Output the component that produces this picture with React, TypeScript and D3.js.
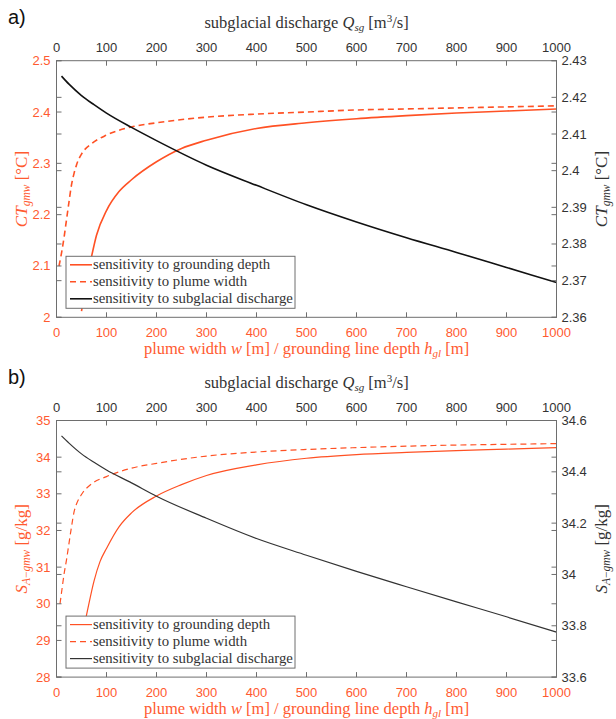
import React from 'react'
import * as d3 from 'd3'

// x ticks shared by top (discharge) and bottom (width / depth) axes
const xTicks = [0, 100, 200, 300, 400, 500, 600, 700, 800, 900, 1000]

// panel a) temperature
const ctLeftTicks = [2, 2.1, 2.2, 2.3, 2.4, 2.5]
const ctRightTicks = [2.36, 2.37, 2.38, 2.39, 2.4, 2.41, 2.42, 2.43]

const ctDepthX = [50, 60, 70, 80, 100, 125, 150, 200, 250, 300, 400, 500, 600, 700, 800, 900, 1000]
const ctDepthY = [2.012, 2.07, 2.118, 2.16, 2.208, 2.245, 2.268, 2.303, 2.329, 2.345, 2.368, 2.379, 2.387, 2.393, 2.398, 2.402, 2.406]

const ctWidthX = [5, 10, 15, 20, 25, 30, 35, 40, 50, 70, 100, 150, 200, 300, 400, 500, 600, 700, 800, 900, 1000]
const ctWidthY = [2.1, 2.125, 2.155, 2.19, 2.225, 2.258, 2.28, 2.297, 2.318, 2.338, 2.355, 2.371, 2.379, 2.39, 2.396, 2.4, 2.404, 2.406, 2.408, 2.41, 2.412]

const ctDischX = [10, 25, 50, 75, 100, 150, 200, 300, 400, 500, 600, 700, 800, 900, 1000]
const ctDischY = [2.4258, 2.4236, 2.4205, 2.418, 2.4157, 2.4118, 2.4082, 2.4015, 2.396, 2.3907, 2.386, 2.3817, 2.3777, 2.3736, 2.3695]

// panel b) salinity
const saLeftTicks = [28, 29, 30, 31, 32, 33, 34, 35]
const saRightTicks = [33.6, 33.8, 34, 34.2, 34.4, 34.6]

const saDepthX = [50, 60, 75, 87, 100, 125, 150, 200, 250, 300, 400, 500, 600, 700, 800, 900, 1000]
const saDepthY = [29.05, 29.69, 30.62, 31.15, 31.51, 32.1, 32.48, 32.94, 33.25, 33.5, 33.79, 33.97, 34.07, 34.13, 34.18, 34.22, 34.26]

const saWidthX = [7, 10, 15, 20, 25, 30, 35, 40, 50, 70, 100, 150, 200, 300, 400, 500, 600, 700, 800, 900, 1000]
const saWidthY = [30.0, 30.3, 30.8, 31.2, 31.65, 32.1, 32.5, 32.72, 32.98, 33.27, 33.47, 33.7, 33.83, 34.03, 34.14, 34.21, 34.26, 34.3, 34.33, 34.35, 34.37]

const saDischX = [10, 25, 50, 75, 100, 150, 200, 300, 400, 500, 600, 700, 800, 900, 1000]
const saDischY = [34.54, 34.512, 34.47, 34.437, 34.407, 34.357, 34.305, 34.219, 34.14, 34.075, 34.012, 33.952, 33.893, 33.835, 33.775]

const legendLabels = ['sensitivity to grounding depth', 'sensitivity to plume width', 'sensitivity to subglacial discharge']

const ORANGE = '#ff5124'
const ORANGE_TXT = '#ff5a30'
const AXIS = '#6e6e6e'
const SERIF = '"Liberation Serif", "DejaVu Serif", serif'
const SANS = '"Liberation Sans", Arial, sans-serif'

const left = 56.5
const right = 556.5
const plotH = 256.6

const x = d3.scaleLinear().domain([0, 1000]).range([left, right])

const zip = (xs: number[], ys: number[]) => xs.map((v, i) => [v, ys[i]] as [number, number])

type PanelProps = {
  top: number
  tag: string
  leftDomain: [number, number]
  rightDomain: [number, number]
  leftTicks: number[]
  rightTicks: number[]
  depth: [number, number][]
  width: [number, number][]
  disch: [number, number][]
  yLabel: () => React.ReactNode
  lw: number
  black: string
}

const Panel = (p: PanelProps) => {
  const bottom = p.top + plotH
  const yL = d3.scaleLinear().domain(p.leftDomain).range([bottom, p.top])
  const yR = d3.scaleLinear().domain(p.rightDomain).range([bottom, p.top])
  const lineL = d3.line<[number, number]>().x((d) => x(d[0])).y((d) => yL(d[1])).curve(d3.curveMonotoneX)
  const lineR = d3.line<[number, number]>().x((d) => x(d[0])).y((d) => yR(d[1])).curve(d3.curveMonotoneX)
  const tk = 5
  const midY = (p.top + bottom) / 2
  const legX = 66
  const legY = bottom - 61
  const rows = [legY + 8.5, legY + 25.5, legY + 42.5]

  return (
    <g>
      <text x={8} y={p.top - 37} fontFamily={SANS} fontSize={20} fill="#111">{p.tag}</text>
      {/* top axis title */}
      <text x={(left + right) / 2} y={p.top - 33} textAnchor="middle" fontFamily={SERIF} fontSize={16.5} fill="#333">
        subglacial discharge <tspan fontStyle="italic">Q</tspan>
        <tspan fontStyle="italic" fontSize={11} dy={3}>sg</tspan>
        <tspan dy={-3}> [m</tspan>
        <tspan fontSize={11} dy={-6}>3</tspan>
        <tspan dy={6}>/s]</tspan>
      </text>

      {/* lines */}
      <path d={lineL(p.depth) || ''} fill="none" stroke={ORANGE} strokeWidth={p.lw} />
      <path d={lineL(p.width) || ''} fill="none" stroke={ORANGE} strokeWidth={p.lw} strokeDasharray="6,4" />
      <path d={lineR(p.disch) || ''} fill="none" stroke={p.black} strokeWidth={p.lw} />

      {/* box */}
      <rect x={left} y={p.top} width={right - left} height={plotH} fill="none" stroke={AXIS} strokeWidth={1} />

      {/* x ticks top and bottom */}
      {xTicks.map((t) => (
        <g key={'x' + t}>
          <line x1={x(t)} x2={x(t)} y1={p.top} y2={p.top + tk} stroke={AXIS} />
          <line x1={x(t)} x2={x(t)} y1={bottom} y2={bottom - tk} stroke={AXIS} />
          <text x={x(t)} y={p.top - 9} textAnchor="middle" fontFamily={SANS} fontSize={13} fill="#333">{t}</text>
          <text x={x(t)} y={bottom + 20} textAnchor="middle" fontFamily={SANS} fontSize={13} fill={ORANGE_TXT}>{t}</text>
        </g>
      ))}

      {/* left scale ticks on both sides */}
      {p.leftTicks.map((t) => (
        <g key={'l' + t}>
          <line x1={left} x2={left + tk} y1={yL(t)} y2={yL(t)} stroke={AXIS} />
          <line x1={right} x2={right - tk} y1={yL(t)} y2={yL(t)} stroke={AXIS} />
          <text x={left - 6} y={yL(t) + 4.5} textAnchor="end" fontFamily={SANS} fontSize={13} fill={ORANGE_TXT}>{String(t)}</text>
        </g>
      ))}
      {/* right scale ticks on both sides */}
      {p.rightTicks.map((t) => (
        <g key={'r' + t}>
          <line x1={right} x2={right - tk} y1={yR(t)} y2={yR(t)} stroke={AXIS} />
          <line x1={left} x2={left + tk} y1={yR(t)} y2={yR(t)} stroke={AXIS} />
          <text x={right + 5} y={yR(t) + 4.5} fontFamily={SANS} fontSize={13} fill="#333">{String(t)}</text>
        </g>
      ))}

      {/* y labels */}
      <text transform={`translate(27,${midY}) rotate(-90)`} textAnchor="middle" fontFamily={SERIF} fontSize={17} fill={ORANGE_TXT}>
        {p.yLabel()}
      </text>
      <text transform={`translate(607,${midY}) rotate(-90)`} textAnchor="middle" fontFamily={SERIF} fontSize={17} fill="#333">
        {p.yLabel()}
      </text>

      {/* bottom axis label */}
      <text x={(left + right) / 2 + 0} y={bottom + 37} textAnchor="middle" fontFamily={SERIF} fontSize={16.5} fill={ORANGE_TXT}>
        plume width <tspan fontStyle="italic">w</tspan> [m] / grounding line depth <tspan fontStyle="italic">h</tspan>
        <tspan fontStyle="italic" fontSize={11} dy={3}>gl</tspan>
        <tspan dy={-3}> [m]</tspan>
      </text>

      {/* legend */}
      <rect x={legX} y={legY} width={229} height={52} fill="#fff" stroke={AXIS} />
      {legendLabels.map((lab, i) => (
        <g key={lab}>
          <line
            x1={legX + 4}
            x2={legX + 26}
            y1={rows[i]}
            y2={rows[i]}
            stroke={i === 2 ? p.black : ORANGE}
            strokeWidth={p.lw}
            strokeDasharray={i === 1 ? '6,4' : undefined}
          />
          <text x={legX + 27} y={rows[i] + 4.5} fontFamily={SERIF} fontSize={14.8} fill="#333">{lab}</text>
        </g>
      ))}
    </g>
  )
}

const ctLabel = () => (
  <>
    <tspan fontStyle="italic">CT</tspan>
    <tspan fontStyle="italic" fontSize={11.5} dy={3}>gmw</tspan>
    <tspan dy={-3}> [°C]</tspan>
  </>
)

const saLabel = () => (
  <>
    <tspan fontStyle="italic">S</tspan>
    <tspan fontSize={11.5} dy={3}><tspan fontStyle="italic">A</tspan>−<tspan fontStyle="italic">gmw</tspan></tspan>
    <tspan dy={-3}> [g/kg]</tspan>
  </>
)

const App = () => (
  <svg
    width={616}
    height={719}
    style={{ position: 'absolute', left: 0, top: 0, background: '#fff' }}
  >
    <Panel
      top={60.7}
      tag="a)"
      leftDomain={[2, 2.5]}
      rightDomain={[2.36, 2.43]}
      leftTicks={ctLeftTicks}
      rightTicks={ctRightTicks}
      depth={zip(ctDepthX, ctDepthY)}
      width={zip(ctWidthX, ctWidthY)}
      disch={zip(ctDischX, ctDischY)}
      yLabel={ctLabel}
      lw={1.6}
      black="#111"
    />
    <Panel
      top={420.5}
      tag="b)"
      leftDomain={[28, 35]}
      rightDomain={[33.6, 34.6]}
      leftTicks={saLeftTicks}
      rightTicks={saRightTicks}
      depth={zip(saDepthX, saDepthY)}
      width={zip(saWidthX, saWidthY)}
      disch={zip(saDischX, saDischY)}
      yLabel={saLabel}
      lw={1.2}
      black="#333"
    />
  </svg>
)

export default App
